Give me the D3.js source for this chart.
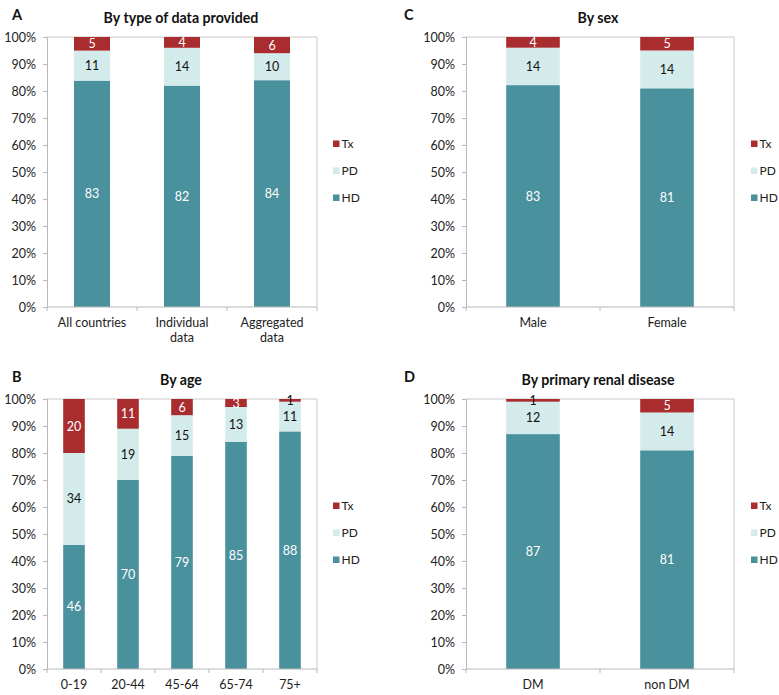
<!DOCTYPE html>
<html>
<head>
<meta charset="utf-8">
<script src="https://cdn.jsdelivr.net/npm/d3@7"></script>
<style>
  body { margin: 0; background: #fff; }
  svg text { font-family: Lato, "Open Sans", sans-serif; }
</style>
</head>
<body>
<div id="main"></div>
<script>
// series order bottom -> top
let seriesKeys = ['HD', 'PD', 'Tx'];
let legendKeys = ['Tx', 'PD', 'HD'];

// panel A
let typeCategories = [['All countries'], ['Individual', 'data'], ['Aggregated', 'data']];
let typeHD = [83, 82, 84];
let typePD = [11, 14, 10];
let typeTx = [5, 4, 6];

// panel B
let ageCategories = [['0-19'], ['20-44'], ['45-64'], ['65-74'], ['75+']];
let ageHD = [46, 70, 79, 85, 88];
let agePD = [34, 19, 15, 13, 11];
let ageTx = [20, 11, 6, 3, 1];

// panel C
let sexCategories = [['Male'], ['Female']];
let sexHD = [83, 81];
let sexPD = [14, 14];
let sexTx = [4, 5];

// panel D
let prdCategories = [['DM'], ['non DM']];
let prdHD = [87, 81];
let prdPD = [12, 14];
let prdTx = [1, 5];

let yTicks = [0, 10, 20, 30, 40, 50, 60, 70, 80, 90, 100];

let colors = { HD: '#4a919e', PD: '#d4ebec', Tx: '#a92c2f' };
let labelColors = { HD: '#ffffff', PD: '#111111', Tx: '#ffffff' };

let width = 779, height = 695;
let fontSize = 12.5;

let svg = d3.select('#main')
  .append('svg')
  .attr('width', width)
  .attr('height', height);

svg.append('rect').attr('width', width).attr('height', height).attr('fill', '#fff');

function drawPanel(opts) {
  let g = svg.append('g').attr('class', 'panel');
  let x0 = opts.left, x1 = opts.right, yTop = opts.top, yBot = opts.bottom;

  let rows = opts.categories.map(function(c, i) {
    return { cat: i, HD: opts.HD[i], PD: opts.PD[i], Tx: opts.Tx[i] };
  });

  // 100% stacked, like the spreadsheet chart
  let stacked = d3.stack().keys(seriesKeys).offset(d3.stackOffsetExpand)(rows);

  let x = d3.scaleBand()
    .domain(d3.range(opts.categories.length))
    .range([x0, x1])
    .paddingInner(0.6)
    .paddingOuter(0.3);

  let y = d3.scaleLinear().domain([0, 1]).range([yBot, yTop]);

  // plot area frame (top and right lines)
  g.append('path')
    .attr('d', 'M' + x0 + ',' + yTop + 'H' + x1 + 'V' + yBot)
    .attr('fill', 'none')
    .attr('stroke', '#c8c8c8')
    .attr('stroke-width', 1);

  let layers = g.selectAll('.layer')
    .data(stacked)
    .enter().append('g')
    .attr('class', 'layer')
    .attr('fill', function(d) { return colors[d.key]; });

  layers.selectAll('rect')
    .data(function(d) { return d; })
    .enter().append('rect')
    .attr('x', function(d, i) { return x(i); })
    .attr('width', x.bandwidth())
    .attr('y', function(d) { return y(d[1]); })
    .attr('height', function(d) { return y(d[0]) - y(d[1]); });

  // value labels
  stacked.forEach(function(layer) {
    g.append('g').selectAll('text')
      .data(layer)
      .enter().append('text')
      .attr('x', function(d, i) { return x(i) + x.bandwidth() / 2; })
      .attr('y', function(d) { return (y(d[0]) + y(d[1])) / 2; })
      .attr('dy', '0.36em')
      .attr('text-anchor', 'middle')
      .attr('font-size', fontSize)
      .attr('fill', function(d) {
        let v = d.data[layer.key];
        if (layer.key === 'Tx' && v <= 1) return '#111';
        return labelColors[layer.key];
      })
      .text(function(d) { return d.data[layer.key]; });
  });

  // y axis
  let yAxis = g.append('g')
    .attr('transform', 'translate(' + x0 + ',0)')
    .call(d3.axisLeft(d3.scaleLinear().domain([0, 100]).range([yBot, yTop]))
      .tickValues(yTicks)
      .tickSize(4)
      .tickPadding(7)
      .tickFormat(function(d) { return d + '%'; }));
  yAxis.selectAll('.domain, .tick line').attr('stroke', '#b8b8b8');
  yAxis.selectAll('text').attr('font-size', fontSize).attr('fill', '#222').attr('font-family', 'Lato, sans-serif');

  // x axis: tick marks between categories
  let xAxisG = g.append('g').attr('class', 'x-axis');
  xAxisG.append('line')
    .attr('x1', x0).attr('x2', x1).attr('y1', yBot).attr('y2', yBot)
    .attr('stroke', '#b8b8b8');
  let step = x.step();
  let bounds = d3.range(opts.categories.length + 1).map(function(i) {
    return i === 0 ? x0 : (i === opts.categories.length ? x1 : x(i) - step * 0.3);
  });
  xAxisG.selectAll('.xt')
    .data(bounds)
    .enter().append('line')
    .attr('x1', function(d) { return d; })
    .attr('x2', function(d) { return d; })
    .attr('y1', yBot)
    .attr('y2', yBot + 4)
    .attr('stroke', '#b8b8b8');

  let catLabels = xAxisG.selectAll('.xl')
    .data(opts.categories)
    .enter().append('text')
    .attr('text-anchor', 'middle')
    .attr('font-size', fontSize)
    .attr('fill', '#222')
    .attr('transform', function(d, i) {
      return 'translate(' + (x(i) + x.bandwidth() / 2) + ',' + (yBot + 20) + ')';
    });
  catLabels.selectAll('tspan')
    .data(function(d) { return d; })
    .enter().append('tspan')
    .attr('x', 0)
    .attr('dy', function(d, i) { return i === 0 ? 0 : 15; })
    .text(function(d) { return d; });

  // title and panel letter
  g.append('text')
    .attr('x', opts.titleX)
    .attr('y', yTop - 14)
    .attr('text-anchor', 'middle')
    .attr('font-size', 14.2)
    .attr('font-weight', 'bold')
    .attr('fill', '#111')
    .text(opts.title);

  g.append('text')
    .attr('x', opts.letterX)
    .attr('y', yTop - 17)
    .attr('font-size', 14.5)
    .attr('font-weight', 'bold')
    .attr('fill', '#111')
    .text(opts.letter);

  // legend
  let legend = g.append('g')
    .attr('transform', 'translate(' + opts.legendX + ',' + (yTop + 107) + ')');
  let items = legend.selectAll('g')
    .data(legendKeys)
    .enter().append('g')
    .attr('transform', function(d, i) { return 'translate(0,' + (i * 27) + ')'; });
  items.append('rect')
    .attr('x', 0).attr('y', -3.5)
    .attr('width', 6.5).attr('height', 6.5)
    .attr('fill', function(d) { return colors[d]; });
  items.append('text')
    .attr('x', 8.5)
    .attr('dy', '0.36em')
    .attr('font-size', 12)
    .attr('fill', '#222')
    .text(function(d) { return d; });
}

drawPanel({
  letter: 'A', title: 'By type of data provided',
  categories: typeCategories, HD: typeHD, PD: typePD, Tx: typeTx,
  left: 47, right: 317, top: 37, bottom: 307,
  titleX: 181, letterX: 12, legendX: 333
});

drawPanel({
  letter: 'B', title: 'By age',
  categories: ageCategories, HD: ageHD, PD: agePD, Tx: ageTx,
  left: 47, right: 317, top: 399, bottom: 669,
  titleX: 181, letterX: 12, legendX: 333
});

drawPanel({
  letter: 'C', title: 'By sex',
  categories: sexCategories, HD: sexHD, PD: sexPD, Tx: sexTx,
  left: 466, right: 734, top: 37, bottom: 307,
  titleX: 598, letterX: 404, legendX: 751
});

drawPanel({
  letter: 'D', title: 'By primary renal disease',
  categories: prdCategories, HD: prdHD, PD: prdPD, Tx: prdTx,
  left: 466, right: 734, top: 399, bottom: 669,
  titleX: 598, letterX: 404, legendX: 751
});
</script>
</body>
</html>
